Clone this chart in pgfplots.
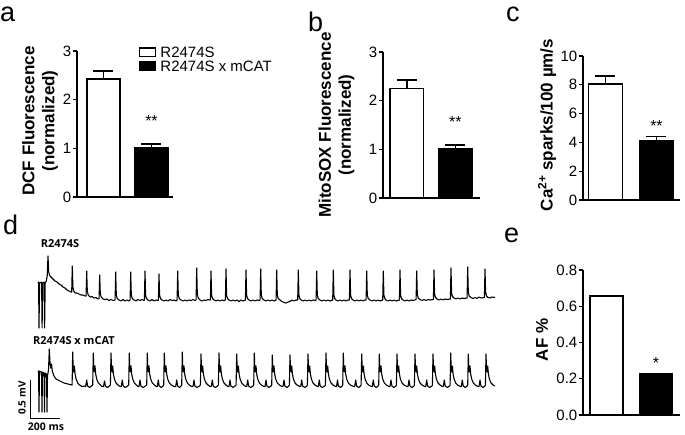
\documentclass[border=0pt]{standalone}
\usepackage{pgfplots}
\pgfplotsset{compat=1.18}
\usepackage{fontspec}
\setmainfont{Liberation Sans}
\newfontfamily\tracefont{Open Sans}
\begin{document}
\begin{tikzpicture}[x=1pt,y=1pt]
\useasboundingbox (0,0) rectangle (685,434);
\pgfplotsset{
  barpanel/.style={
    scale only axis, anchor=south west, clip=false,
    axis x line*=bottom, axis y line*=left,
    axis line style={line width=1.3pt, -},
    xtick=\empty,
    ytick style={line width=1.3pt, black},
    tick align=outside, major tick length=4.5pt,
    ymin=0,
    yticklabel style={font=\fontsize{15}{15}\selectfont, inner sep=1pt},
    /pgf/number format/assume math mode=true,
  },
  errsty/.style={
    error bars/y dir=plus, error bars/y explicit,
    error bars/error bar style={line width=1.6pt},
    error bars/error mark options={line width=1.6pt, mark size=10pt, rotate=90}},
  wbar/.style={ybar, bar shift=0pt, draw=black, fill=white, line width=1.6pt, errsty},
  kbar/.style={ybar, bar shift=0pt, draw=black, fill=black, line width=1.6pt, errsty},
}
% ---------- panel d : recorded traces (figure pixel units) ----------
\begin{axis}[at={(0pt,0pt)}, anchor=south west, scale only axis,
  width=685pt, height=434pt, xmin=0, xmax=685, ymin=0, ymax=434,
  y dir=reverse, hide axis, clip=false]
\addplot[black, line width=1.1pt, line join=round] coordinates {
(38,283) (38.6,282) (39,328) (39.6,283) (41.6,282) (42.1,328) (42.7,283) (44.1,282) (44.6,328) (45.2,283) (46.3,281) (47.2,276) (48,256) (48.7,272) (49.5,275) (51,277) (53,279) (55,281) (57,282) (59,284) (61,285) (63,287) (65,288) (67,290) (69,291) (71,292)
(71.7,292) (72.3,266) (72.9,287) (73.8,291) (75,293) (77,293) (79,294) (81,295) (83,295) (85,296)
(86.1,296) (86.7,271) (87.3,291) (88.2,295) (90,297) (92,296.5) (94,298) (96,297.5) (98,299)
(99.1,298.5) (99.7,275) (100.3,294) (101.2,297) (103,299) (105,299.5) (107,299) (109,300.5) (111,299.5) (113,300.5) (115,300)
(115.1,300) (115.7,272) (116.3,295) (117.2,298.5) (119,300) (121,301) (123,299.5) (125,301) (127,300) (129,301) (130,300)
(130.1,300) (130.7,272) (131.3,295) (132.2,298.5) (134,300) (136,301) (138,299.5) (140,300.5) (142,299.5) (144,300.5)
(144.4,300) (145,271) (145.6,295) (146.5,298.5) (148,300) (150,301) (152,299.5) (154,301) (156,300) (158,300.5)
(158.4,300) (159,274) (159.6,295) (160.5,298.5) (162,300) (164,301) (166,300) (168,301) (170,299.5) (172,300.5) (174,300) (176,301) (177,300)
(177.1,300) (177.7,271) (178.3,295) (179.2,298.5) (181,300) (183,301) (185,300) (187,301) (189,300) (191,300.5) (193,299.5) (195,300.5) (196,300)
(196.1,300) (196.7,268) (197.3,294) (198.2,298) (200,300) (202,301) (204,300) (206,300.5) (208,299.5) (210,300)
(210.4,300) (211,271) (211.6,295) (212.5,298.5) (214,300) (216,301) (218,300) (220,301) (222,300) (224,300.5) (225.4,300)
(226,269) (226.6,295) (227.5,298.5) (229,300) (231,301) (233,300) (235,301) (237,300) (239,301.5) (241,300) (243,301) (245.4,300)
(246,270) (246.6,295) (247.5,298.5) (249,300) (251,301) (253,300) (255,301) (257,300) (259,300.5) (260.1,300)
(260.7,269) (261.3,295) (262.2,298.5) (264,300) (266,301) (268,300) (270,301) (272,300) (274,301) (276.1,300)
(276.7,270) (277.3,295) (278.2,298.5) (280,300) (282,301.5) (284,302.5) (286,303) (288,302) (290,301.5) (292,300) (294,301) (296,300) (297.7,300)
(298.3,270) (298.9,295) (299.8,298.5) (301,300) (303,301) (305,300) (307,301) (309,300) (311,301) (313,300) (315,300.5) (316.1,300)
(316.7,271) (317.3,295) (318.2,298.5) (320,300) (322,301) (324,300) (326,301) (328,300) (330,301) (332.7,300)
(333.3,270) (333.9,295) (334.8,298.5) (336,300) (338,301) (340,300) (342,301) (344,300) (346,301) (348,300) (349.4,300)
(350,270) (350.6,295) (351.5,298.5) (353,300) (355,301) (357,300) (359,301) (361,300) (363,301) (365,300) (366.1,300)
(366.7,271) (367.3,295) (368.2,298.5) (370,300) (372,301) (374,300) (376,301) (378,300) (380,301) (382.7,300)
(383.3,271) (383.9,295) (384.8,298.5) (386,300) (388,301) (390,300) (392,301) (394,300) (396,301) (399.4,300)
(400,270) (400.6,295) (401.5,298.5) (403,300) (405,301) (407,300) (409,301) (411,300) (413,300.5) (416.1,299.5)
(416.7,271) (417.3,294.5) (418.2,298) (420,299.5) (422,300.5) (424,299.5) (426,300.5) (428,299.5) (430,300) (433.4,299.5)
(434,270) (434.6,294) (435.5,297.5) (437,299) (439,300) (441,299) (443,300) (445,299) (447,299.5) (450.4,299)
(451,268) (451.6,293) (452.5,296.5) (454,298) (456,299) (458,298) (460,299) (462,298) (464,298.5) (467.1,298)
(467.7,267) (468.3,292) (469.2,296) (471,297.5) (473,298.5) (475,297.5) (477,298.5) (479,297) (481,298) (484.4,297.5)
(485,269) (485.6,292) (486.5,296) (488,297.5) (490,298) (492,297) (494,297.5) (495,297)
};
\addplot[black, line width=1.1pt, line join=round] coordinates {
(38,372) (38.6,371) (39,412) (39.5,371) (41.5,372) (42,412) (42.5,372) (44,373) (44.5,412) (45,373) (46.5,374) (47,412) (47.5,376) (48.5,370) (49.3,349) (50.1,364) (50.8,368) (51.5,364) (52.3,371) (54,376) (56,379) (58,380) (60,381) (62,382) (64,383) (66,383.5) (68,384) (70,384.5)
(72.1,385) (72.7,352) (73.2,368) (73.8,372) (74.4,366) (75.1,374) (76.1,379) (77.7,383) (79.7,385) (82,386.5) (84,386)
(85.7,386.5) (86.7,380) (87.6,386) (89.7,387.5) (91.5,386)
(92.7,385) (93.3,353) (93.8,368) (94.4,372) (95,366) (95.7,374) (96.7,379) (98.3,383) (100.3,385) (102,386.5)
(103.5,386.5) (104.5,381) (105.4,386) (107.5,387.5) (109.5,386)
(110.4,385) (111,353) (111.5,368) (112.1,372) (112.7,366) (113.4,374) (114.4,379) (116,383) (118,385) (120,386.5)
(121.3,386.5) (122.3,380) (123.2,386) (125.3,387.5) (127.5,386)
(128.7,385) (129.3,353) (129.8,368) (130.4,372) (131,366) (131.7,374) (132.7,379) (134.3,383) (136.3,385) (138,386.5)
(139,386.5) (140,380) (140.9,386) (143,387.5) (145.5,386)
(146.7,385) (147.3,353) (147.8,368) (148.4,372) (149,366) (149.7,374) (150.7,379) (152.3,383) (154.3,385) (156.3,386.5)
(157.3,386.5) (158.3,380) (159.2,386) (161.3,387.5) (163,386)
(163.7,385) (164.3,353) (164.8,368) (165.4,372) (166,366) (166.7,374) (167.7,379) (169.3,383) (171.3,385) (174,386.5)
(175.7,386.5) (176.7,380) (177.6,386) (179.7,387.5) (181,386)
(181.7,385) (182.3,352) (182.8,368) (183.4,372) (184,366) (184.7,374) (185.7,379) (187.3,383) (189.3,385) (191.5,386.5)
(193,386.5) (194,380) (194.9,386) (197,387.5) (199.5,386)
(200.4,385) (201,354) (201.5,368) (202.1,372) (202.7,366) (203.4,374) (204.4,379) (206,383) (208,385) (210,386.5)
(211.3,386.5) (212.3,380) (213.2,386) (215.3,387.5) (217.5,386)
(218.4,385) (219,353) (219.5,368) (220.1,372) (220.7,366) (221.4,374) (222.4,379) (224,383) (226,385) (228,386.5)
(229,386.5) (230,380) (230.9,386) (233,387.5) (235,386)
(236.1,385) (236.7,354) (237.2,368) (237.8,372) (238.4,366) (239.1,374) (240.1,379) (241.7,383) (243.7,385) (245.7,386.5)
(246.7,386.5) (247.7,380) (248.6,386) (250.7,387.5) (253,386)
(253.7,385) (254.3,353) (254.8,368) (255.4,372) (256,366) (256.7,374) (257.7,379) (259.3,383) (261.3,385) (264,386.5)
(265,386.5) (266,380) (266.9,386) (269,387.5) (271,386)
(271.7,385) (272.3,355) (272.8,368) (273.4,372) (274,366) (274.7,374) (275.7,379) (277.3,383) (279.3,385) (282,386.5)
(283,386.5) (284,380) (284.9,386) (287,387.5) (288.8,386)
(289.4,385) (290,355) (290.5,368) (291.1,372) (291.7,366) (292.4,374) (293.4,379) (295,383) (297,385) (299.7,386.5)
(300.7,386.5) (301.7,380) (302.6,386) (304.7,387.5) (306.8,386)
(307.4,385) (308,354) (308.5,368) (309.1,372) (309.7,366) (310.4,374) (311.4,379) (313,383) (315,385) (317.3,386.5)
(318.3,386.5) (319.3,380) (320.2,386) (322.3,387.5) (324.8,386)
(325.4,385) (326,353) (326.5,368) (327.1,372) (327.7,366) (328.4,374) (329.4,379) (331,383) (333,385) (335.5,386.5)
(336.5,386.5) (337.5,380) (338.4,386) (340.5,387.5) (342.2,386)
(342.7,385) (343.3,353) (343.8,368) (344.4,372) (345,366) (345.7,374) (346.7,379) (348.3,383) (350.3,385) (353.7,386.5)
(354.7,386.5) (355.7,380) (356.6,386) (358.7,387.5) (360.5,386)
(361.1,385) (361.7,354) (362.2,368) (362.8,372) (363.4,366) (364.1,374) (365.1,379) (366.7,383) (368.7,385) (371.3,386.5)
(372.3,386.5) (373.3,380) (374.2,386) (376.3,387.5) (378.2,386)
(378.7,385) (379.3,354) (379.8,368) (380.4,372) (381,366) (381.7,374) (382.7,379) (384.3,383) (386.3,385) (389,386.5)
(390,386.5) (391,380) (391.9,386) (394,387.5) (395.9,386)
(396.4,385) (397,354) (397.5,368) (398.1,372) (398.7,366) (399.4,374) (400.4,379) (402,383) (404,385) (407,386.5)
(408,386.5) (409,380) (409.9,386) (412,387.5) (413.9,386)
(414.4,385) (415,354) (415.5,368) (416.1,372) (416.7,366) (417.4,374) (418.4,379) (420,383) (422,385) (424.7,386.5)
(425.7,386.5) (426.7,380) (427.6,386) (429.7,387.5) (431.9,386)
(432.4,385) (433,354) (433.5,368) (434.1,372) (434.7,366) (435.4,374) (436.4,379) (438,383) (440,385) (442.3,386.5)
(443.3,386.5) (444.3,380) (445.2,386) (447.3,387.5) (449.6,386)
(450.1,385) (450.7,353) (451.2,368) (451.8,372) (452.4,366) (453.1,374) (454.1,379) (455.7,383) (457.7,385) (460.3,386.5)
(461.3,386.5) (462.3,380) (463.2,386) (465.3,387.5) (467.2,386)
(467.7,385) (468.3,354) (468.8,368) (469.4,372) (470,366) (470.7,374) (471.7,379) (473.3,383) (475.3,385) (478,386.5)
(479,386.5) (480,380) (480.9,386) (483,387.5) (484.9,386)
(485.4,385) (486,354) (486.5,368) (487.1,372) (487.7,366) (488.4,374) (489.4,379) (491,383) (493,385) (495,386)
};
% scale bar: 0.5 mV (vertical), 200 ms (horizontal)
\addplot[black, line width=1pt] coordinates {(30,380) (30,418) (60,418)};
\end{axis}

% ---------- panel a ----------
\begin{axis}[barpanel, at={(77pt,237pt)}, width=96pt, height=146pt,
  ymax=3, ytick={0,1,2,3}, xmin=0.448, xmax=2.448, bar width=0.6875,
  legend style={at={(rel axis cs:0.64,1.035)}, anchor=north west, draw=none, fill=none,
    inner sep=0pt, row sep=1.5pt, font=\fontsize{15}{15}\selectfont,
    nodes={inner sep=0.5pt, text height=10.8pt, text depth=0.5pt},
    /tikz/every odd column/.append style={column sep=4pt}},
  legend cell align=left]
\addplot[wbar, legend image code/.code={\draw[black, fill=white, line width=1.3pt] (0pt,-4.2pt) rectangle (16pt,4.2pt);}]
  coordinates {(1,2.43) +- (0,0.16)};
\addplot[kbar, legend image code/.code={\draw[black, fill=black, line width=1.3pt] (0pt,-4.2pt) rectangle (16pt,4.2pt);}]
  coordinates {(2,1.01) +- (0,0.08)};
\legend{R2474S, R2474S x mCAT}
\node[font=\fontsize{16}{16}\selectfont] at (axis cs:2,1.57) {**};
\end{axis}

% ---------- panel b ----------
\begin{axis}[barpanel, at={(383pt,236pt)}, width=97pt, height=146pt,
  ymax=3, ytick={0,1,2,3}, xmin=0.512, xmax=2.508, bar width=0.69]
\addplot[wbar] coordinates {(1,2.25) +- (0,0.17)};
\addplot[kbar] coordinates {(2,1.02) +- (0,0.07)};
\node[font=\fontsize{16}{16}\selectfont] at (axis cs:2,1.56) {**};
\end{axis}

% ---------- panel c ----------
\begin{axis}[barpanel, at={(583pt,234pt)}, width=97pt, height=144pt,
  ymax=10, ytick={0,2,4,6,8,10}, xmin=0.559, xmax=2.461, bar width=0.667]
\addplot[wbar] coordinates {(1,8.05) +- (0,0.55)};
\addplot[kbar] coordinates {(2,4.12) +- (0,0.28)};
\node[font=\fontsize{16}{16}\selectfont] at (axis cs:2,5.11) {**};
\end{axis}

% ---------- panel e ----------
\begin{axis}[barpanel, at={(583pt,19pt)}, width=97pt, height=145pt,
  ymax=0.8, ytick={0,0.2,0.4,0.6,0.8}, xmin=0.525, xmax=2.485, bar width=0.667,
  yticklabel style={/pgf/number format/.cd, fixed, fixed zerofill, precision=1}]
\addplot[ybar, bar shift=0pt, draw=black, fill=white, line width=1.6pt] coordinates {(1,0.655)};
\addplot[ybar, bar shift=0pt, draw=black, fill=black, line width=1.6pt] coordinates {(2,0.225)};
\node[font=\fontsize{16}{16}\selectfont] at (axis cs:2,0.285) {*};
\end{axis}

% ---------- labels ----------
\begin{scope}[every node/.style={inner sep=0pt}]
\node[anchor=base west, font=\fontsize{27}{27}\selectfont] at (0,412) {a};
\node[anchor=base west, font=\fontsize{27}{27}\selectfont] at (308,402) {b};
\node[anchor=base west, font=\fontsize{27}{27}\selectfont] at (506,412) {c};
\node[anchor=base west, font=\fontsize{27}{27}\selectfont] at (3,199) {d};
\node[anchor=base west, font=\fontsize{27}{27}\selectfont] at (504,191) {e};
\node[rotate=90, align=center, font=\fontsize{17}{20}\selectfont\bfseries] at (40,313) {DCF Fluorescence\\(normalized)};
\node[rotate=90, align=center, font=\fontsize{17}{20}\selectfont\bfseries] at (336.5,309) {MitoSOX Fluorescence\\(normalized)};
\node[rotate=90, font=\fontsize{17}{20}\selectfont\bfseries] at (547,309) {Ca\textsuperscript{2+} sparks/100 µm/s};
\node[rotate=90, font=\fontsize{17}{20}\selectfont\bfseries] at (542,94) {AF \%};
\node[font=\tracefont\bfseries\fontsize{11}{11}\selectfont] at (60,190.5) {R2474S};
\node[anchor=west, font=\tracefont\bfseries\fontsize{11}{11}\selectfont] at (33,93.5) {R2474S x mCAT};
\node[rotate=90, font=\tracefont\bfseries\fontsize{10}{10}\selectfont] at (22,36) {0.5 mV};
\node[font=\tracefont\bfseries\fontsize{10.5}{10.5}\selectfont] at (46,7) {200 ms};
\end{scope}
\end{tikzpicture}
\end{document}
